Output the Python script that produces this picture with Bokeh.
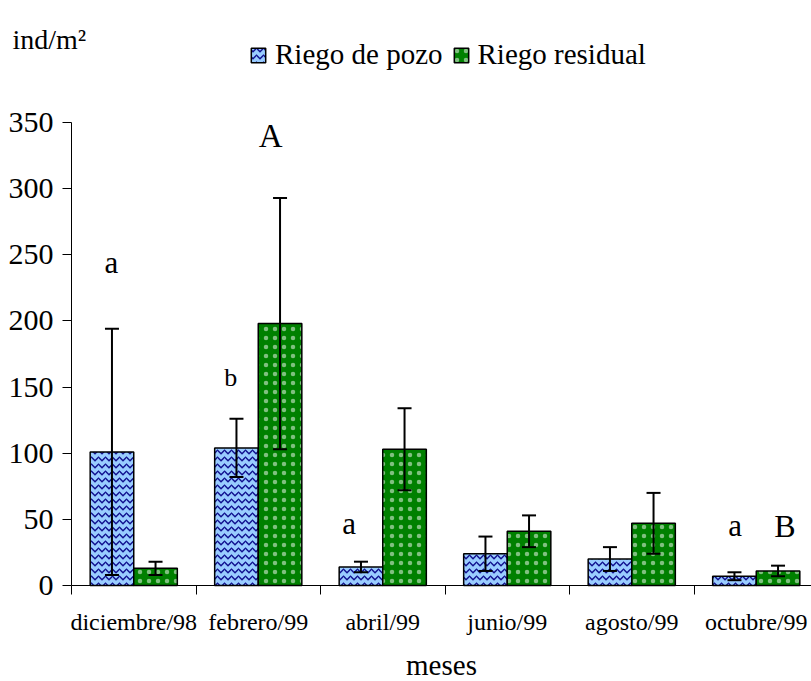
from bokeh.plotting import figure
from bokeh.models import (ColumnDataSource, FixedTicker, Whisker, TeeHead, Legend, LegendItem,
                          Label, LinearAxis)
from bokeh.core.properties import value
from bokeh.embed import file_html
from bokeh.resources import INLINE

months = ["diciembre/98", "febrero/99", "abril/99", "junio/99", "agosto/99", "octubre/99"]
pozo = [101, 104, 14, 24, 20, 7]
pozo_err = [93, 22, 4, 13, 9, 3]
residual = [13, 198, 103, 41, 47, 11]
residual_err = [5, 95, 31, 12, 23, 4]

ann_text = ["a", "A", "b", "a", "a", "B"]
ann_x = [0.32, 1.60, 1.28, 2.23, 5.33, 5.73]
ann_y = [244, 340, 157, 47, 45, 45]
ann_size = ["31px", "33px", "26px", "31px", "31px", "32px"]

FONT = '"Liberation Serif", "Times New Roman", serif'
W = 0.35
centers = [i + 0.5 for i in range(len(months))]
PX = 463 / 350.0   # pixels per unit on y
CW = 124.5         # pixels per month

p = figure(frame_width=811, frame_height=681, output_backend="svg", toolbar_location=None,
           x_range=(-71 / CW, 740 / CW), y_range=(-96 / PX, 585 / PX),
           x_axis_location=None, y_axis_location=None,
           min_border_left=0, min_border_right=0, min_border_top=0, min_border_bottom=0)
p.outline_line_color = None
p.grid.grid_line_color = None
p.background_fill_color = "white"
p.border_fill_color = "white"

src_p = ColumnDataSource(dict(x=[c - W / 2 for c in centers], top=pozo,
                              up=[v + e for v, e in zip(pozo, pozo_err)],
                              lo=[v - e for v, e in zip(pozo, pozo_err)]))
src_r = ColumnDataSource(dict(x=[c + W / 2 for c in centers], top=residual,
                              up=[v + e for v, e in zip(residual, residual_err)],
                              lo=[v - e for v, e in zip(residual, residual_err)]))

rp = p.vbar(x="x", top="top", bottom=0, width=W, source=src_p, fill_color="#99CCFF",
            line_color="black", line_width=1.5,
            hatch_pattern="horizontal_wave", hatch_color="#10108f", hatch_scale=7, hatch_weight=1.5)
rr = p.vbar(x="x", top="top", bottom=0, width=W, source=src_r, fill_color="#008000",
            line_color="black", line_width=1.5,
            hatch_pattern="dot", hatch_color="white", hatch_alpha=0.5, hatch_scale=9,
            hatch_weight=0.4)

for src in (src_p, src_r):
    wk = Whisker(base="x", upper="up", lower="lo", source=src, line_color="black", line_width=2,
                 level="annotation",
                 upper_head=TeeHead(size=14, line_width=2, line_color="black"),
                 lower_head=TeeHead(size=14, line_width=2, line_color="black"))
    p.add_layout(wk)

asrc = ColumnDataSource(dict(x=ann_x, y=ann_y, t=ann_text, s=ann_size))
p.text(x="x", y="y", text="t", source=asrc, text_font=value(FONT), text_font_size="s",
       text_align="center", text_baseline="middle", text_color="black")

# y axis drawn at x = 0
yax = LinearAxis(fixed_location=0, bounds=(0, 350),
                 ticker=FixedTicker(ticks=list(range(0, 351, 50))))
yax.major_label_text_font = FONT
yax.major_label_text_font_size = "30px"
yax.major_label_text_color = "black"
yax.major_tick_out = 9
yax.major_tick_in = 0
yax.minor_tick_line_color = None
yax.axis_line_color = "black"
yax.major_tick_line_color = "black"
yax.major_label_standoff = 9
p.add_layout(yax, "left")

# x axis drawn at y = 0
xax = LinearAxis(fixed_location=0, bounds=(0, 740 / CW),
                 ticker=FixedTicker(ticks=centers, minor_ticks=list(range(0, 6))))
xax.major_label_overrides = {c: m for c, m in zip(centers, months)}
xax.major_tick_line_color = None
xax.major_tick_out = 0
xax.major_tick_in = 0
xax.minor_tick_out = 9
xax.minor_tick_in = 0
xax.minor_tick_line_color = "black"
xax.axis_line_color = "black"
xax.major_label_text_font = FONT
xax.major_label_text_font_size = "24px"
xax.major_label_text_color = "black"
xax.major_label_standoff = 14
xax.axis_label = "meses"
xax.axis_label_text_font = FONT
xax.axis_label_text_font_size = "29px"
xax.axis_label_text_font_style = "normal"
xax.axis_label_text_color = "black"
xax.axis_label_standoff = 11
p.add_layout(xax, "below")

p.add_layout(Label(x=12, y=681 - 39, x_units="screen", y_units="screen", text="ind/m²",
                   text_font=FONT, text_font_size="28px", text_color="black",
                   text_baseline="alphabetic"))
legend = Legend(items=[LegendItem(label="Riego de pozo", renderers=[rp]),
                       LegendItem(label="Riego residual", renderers=[rr])],
                orientation="horizontal", location=(249, 610),
                label_text_font=FONT, label_text_font_size="29px", label_text_color="black",
                glyph_width=18, glyph_height=18, label_standoff=8, spacing=9,
                padding=0, margin=0, border_line_color=None, background_fill_alpha=0)
p.add_layout(legend, "center")

open("out.html", "w").write(file_html(p, INLINE))
